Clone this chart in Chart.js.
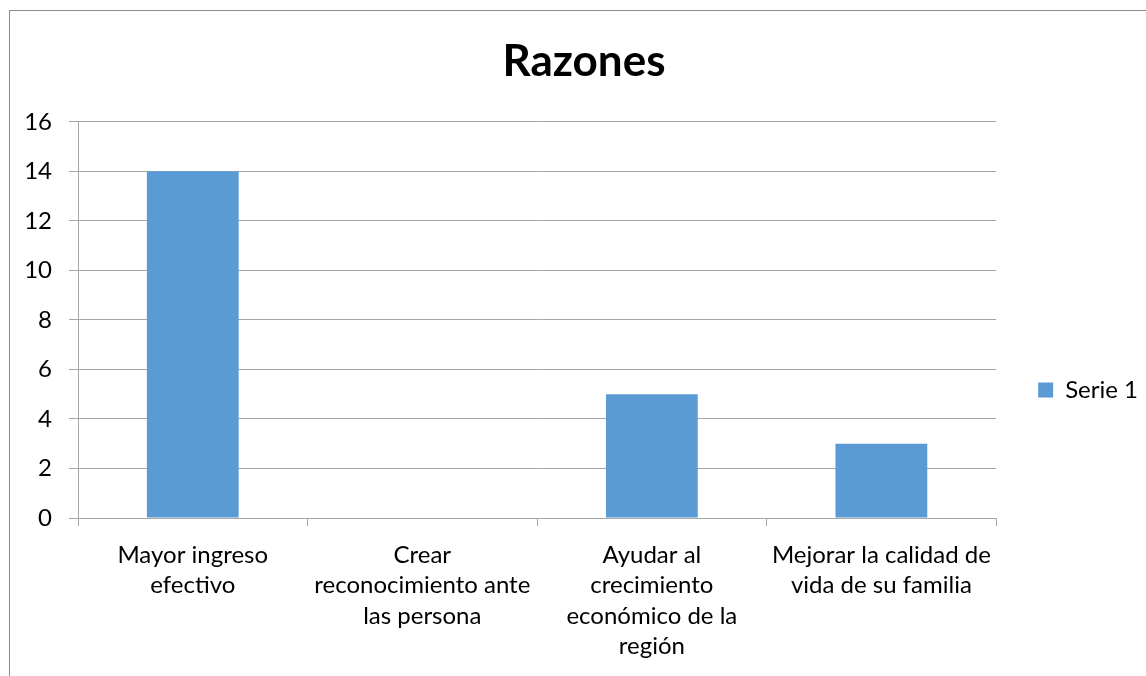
<!DOCTYPE html>
<html>
<head>
<meta charset="utf-8">
<script src="https://cdn.jsdelivr.net/npm/chart.js@4"></script>
<style>
    html, body { margin: 0; padding: 0; background: #fff; overflow: hidden; }
    #wrap {
        position: absolute; left: 9px; top: 10px;
        width: 1157px; height: 758px;
        border-left: 1px solid #8c8c8c; border-top: 1px solid #8c8c8c;
    }
</style>
</head>
<body>
<div id="wrap"><canvas id="razones_chart" width="1157" height="758"></canvas></div>
<script>
var categories = [
    ["Mayor ingreso", "efectivo"],
    ["Crear", "reconocimiento ante", "las persona"],
    ["Ayudar al", "crecimiento", "económico de la", "región"],
    ["Mejorar la calidad de", "vida de su familia"]
];
var serie1 = [14, 0, 5, 3];
var yMin = 0, yMax = 16, yStep = 2;

var font = "Lato, 'Open Sans', sans-serif";
var gridColor = '#a6a6a6';

new Chart(document.getElementById("razones_chart"), {
    "type": "bar",
    "data": {
        "labels": categories,
        "datasets": [{
            "label": "Serie 1",
            "data": serie1,
            "backgroundColor": '#5b9bd5',
            "borderWidth": 0,
            "barPercentage": 0.4,
            "categoryPercentage": 1.0
        }]
    },
    "options": {
        "responsive": false,
        "animation": false,
        "layout": { "padding": { "left": 10, "right": 19 } },
        "plugins": {
            "title": {
                "display": true,
                "text": "Razones",
                "color": '#000',
                "font": { "family": font, "size": 44, "weight": "bold", "lineHeight": 1.2 },
                "padding": { "top": 24, "bottom": 34 }
            },
            "legend": {
                "position": "right",
                "labels": {
                    "boxWidth": 15, "boxHeight": 15, "padding": 10,
                    "color": '#000',
                    "font": { "family": font, "size": 24 }
                }
            },
            "tooltip": { "enabled": false }
        },
        "scales": {
            "x": {
                "grid": { "drawOnChartArea": false, "tickLength": 8, "color": gridColor, "offset": true },
                "border": { "color": gridColor },
                "ticks": {
                    "color": '#000', "padding": 14, "maxRotation": 0, "autoSkip": false,
                    "font": { "family": font, "size": 24, "lineHeight": 1.27 }
                },
                afterFit: function(scale) { scale.height = 251; }
            },
            "y": {
                "min": yMin, "max": yMax,
                "grid": { "color": gridColor, "tickLength": 9 },
                "border": { "color": gridColor },
                "ticks": {
                    "stepSize": yStep, "color": '#000', "padding": 17,
                    "font": { "family": font, "size": 24 }
                },
                afterFit: function(scale) { scale.width = 58; }
            },
            "pad": {
                "type": "linear", "position": "right", "display": true,
                "grid": { "display": false }, "border": { "display": false },
                "ticks": { "display": false },
                afterFit: function(scale) { scale.width = 32; }
            }
        }
    }
});
</script>
</body>
</html>
